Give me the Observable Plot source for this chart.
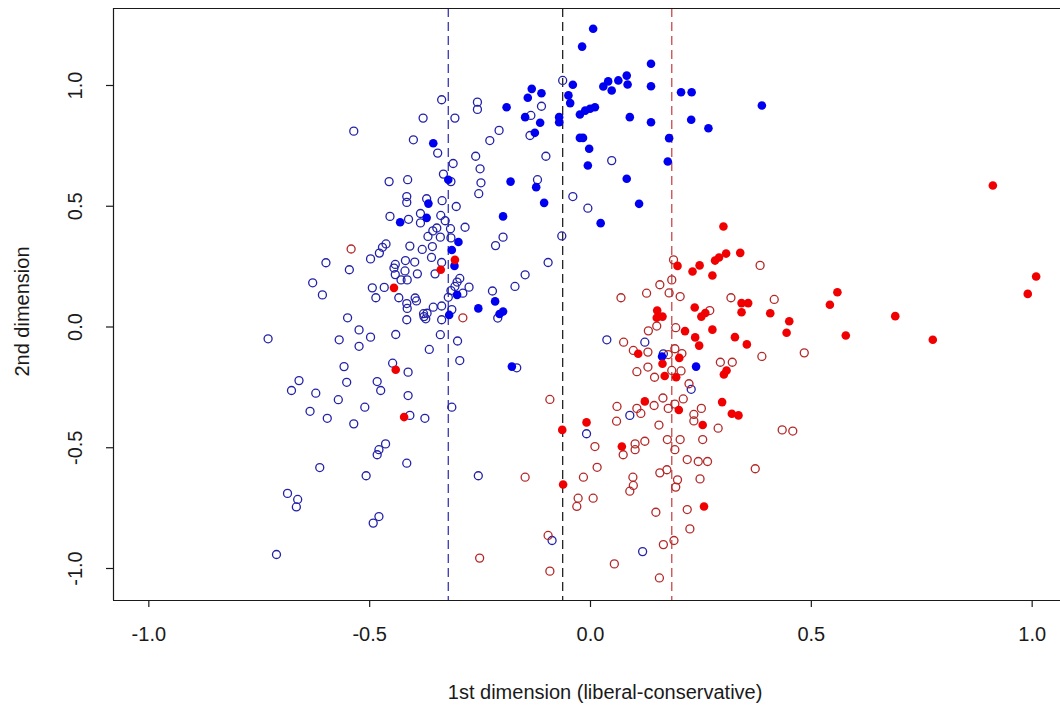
<!DOCTYPE html>
<html><head><meta charset="utf-8">
<script src="https://cdn.jsdelivr.net/npm/d3@7"></script>
<script src="https://cdn.jsdelivr.net/npm/@observablehq/plot@0.6"></script>
<style>body{margin:0;background:#fff}</style>
</head><body><div id="chart"></div>
<script>
// [1st dimension, 2nd dimension]
const blueFilled = [[0.006,1.235],[-0.019,1.161],[0.137,1.090],[-0.040,1.003],[0.029,0.996],[0.040,1.017],[0.048,0.979],[0.063,1.021],[0.082,1.041],[0.084,1.004],[0.137,0.997],[0.205,0.972],[0.229,0.972],[-0.133,0.986],[-0.111,0.968],[-0.142,0.949],[-0.050,0.959],[-0.046,0.927],[-0.190,0.910],[-0.148,0.869],[-0.114,0.846],[-0.071,0.869],[-0.071,0.848],[-0.024,0.880],[-0.012,0.896],[-0.001,0.904],[0.010,0.910],[0.089,0.869],[0.137,0.848],[0.228,0.858],[0.267,0.823],[-0.126,0.804],[-0.024,0.783],[-0.017,0.783],[0.178,0.782],[-0.003,0.738],[-0.006,0.669],[0.175,0.685],[-0.181,0.602],[-0.123,0.579],[0.082,0.614],[-0.105,0.514],[0.110,0.510],[-0.198,0.458],[0.023,0.430],[0.388,0.917],[-0.356,0.761],[-0.322,0.610],[-0.367,0.511],[-0.371,0.452],[-0.431,0.434],[-0.299,0.352],[-0.314,0.319],[-0.308,0.253],[-0.302,0.133],[-0.254,0.077],[-0.216,0.106],[-0.206,0.054],[-0.198,0.064],[-0.320,0.050],[-0.178,-0.164],[0.162,-0.122],[0.239,-0.164]];

const blueOpen = [[-0.337,0.941],[-0.379,0.865],[-0.307,0.865],[-0.536,0.811],[-0.401,0.775],[-0.346,0.720],[-0.311,0.677],[-0.333,0.633],[-0.316,0.602],[-0.456,0.602],[-0.414,0.610],[-0.416,0.540],[-0.416,0.516],[-0.371,0.531],[-0.336,0.523],[-0.304,0.499],[-0.454,0.458],[-0.412,0.446],[-0.385,0.470],[-0.385,0.431],[-0.339,0.462],[-0.329,0.440],[-0.348,0.410],[-0.357,0.398],[-0.317,0.407],[-0.284,0.413],[-0.368,0.375],[-0.340,0.372],[-0.316,0.369],[-0.463,0.344],[-0.471,0.330],[-0.409,0.335],[-0.381,0.321],[-0.358,0.333],[-0.256,0.931],[-0.256,0.901],
[-0.063,1.021],[-0.135,0.876],[-0.111,0.914],[-0.207,0.814],[-0.228,0.772],[-0.137,0.793],[-0.260,0.707],[-0.101,0.707],[-0.250,0.655],[-0.248,0.597],[-0.253,0.552],[-0.120,0.610],[-0.040,0.540],[-0.006,0.492],[0.048,0.689],[-0.198,0.372],[-0.065,0.377],
[-0.478,0.306],[-0.498,0.282],[-0.599,0.266],[-0.546,0.237],[-0.442,0.259],[-0.445,0.244],[-0.419,0.275],[-0.398,0.269],[-0.360,0.288],[-0.337,0.267],[-0.442,0.217],[-0.420,0.232],[-0.392,0.220],[-0.352,0.220],[-0.429,0.195],[-0.415,0.195],[-0.629,0.183],[-0.607,0.133],[-0.494,0.162],[-0.467,0.164],[-0.486,0.121],[-0.434,0.121],[-0.416,0.097],[-0.415,0.077],[-0.397,0.120],[-0.394,0.108],[-0.302,0.186],[-0.296,0.201],[-0.307,0.168],[-0.289,0.140],[-0.275,0.165],[-0.316,0.151],[-0.322,0.123],[-0.222,0.149],[-0.215,0.337],[-0.356,0.082],[-0.337,0.087],[-0.378,0.055],[-0.370,0.057],[-0.377,0.043],[-0.373,0.034],[-0.337,0.030],[-0.314,0.072],[-0.416,0.030],[-0.550,0.038],[-0.210,0.037],
[-0.730,-0.049],[-0.569,-0.053],[-0.524,-0.012],[-0.498,-0.042],[-0.524,-0.080],[-0.441,-0.031],[-0.340,-0.032],[-0.301,-0.058],[-0.365,-0.093],[-0.296,-0.139],[-0.558,-0.164],[-0.448,-0.150],[-0.413,-0.187],[-0.660,-0.222],[-0.677,-0.263],[-0.552,-0.229],[-0.483,-0.226],[-0.475,-0.263],[-0.622,-0.274],[-0.571,-0.301],[-0.413,-0.284],[-0.635,-0.349],[-0.596,-0.378],[-0.536,-0.401],[-0.511,-0.332],[-0.409,-0.366],[-0.375,-0.378],[-0.314,-0.332],
[-0.464,-0.484],[-0.479,-0.508],[-0.483,-0.529],[-0.416,-0.564],[-0.613,-0.582],[-0.508,-0.616],[-0.254,-0.616],[-0.686,-0.689],[-0.663,-0.714],[-0.666,-0.745],[-0.479,-0.785],[-0.492,-0.812],[-0.711,-0.942],
[-0.096,0.267],[-0.148,0.216],[-0.171,0.168],[0.037,-0.053],[0.123,-0.063],[0.165,-0.111],[0.228,-0.258],[0.089,-0.366],[-0.009,-0.442],[-0.087,-0.884],[0.118,-0.930],[-0.167,-0.169]];

const redFilled = [[-0.307,0.278],[-0.339,0.237],[-0.445,0.162],[-0.441,-0.177],[-0.422,-0.373],[-0.064,-0.426],[-0.009,-0.395],[0.071,-0.495],[-0.062,-0.652],[0.257,-0.743],[0.254,-0.406],[0.123,-0.308],[0.200,-0.344],[0.298,-0.311],[0.320,-0.359],[0.335,-0.366],[0.197,0.253],[0.231,0.230],[0.247,0.255],[0.276,0.213],[0.282,0.275],[0.291,0.288],[0.307,0.304],[0.339,0.307],[0.301,0.416],[0.151,0.068],[0.150,0.038],[0.163,0.043],[0.236,0.081],[0.251,0.043],[0.260,0.058],[0.276,-0.011],[0.214,-0.017],[0.237,-0.043],[0.246,-0.077],[0.342,0.099],[0.357,0.099],[0.342,0.061],[0.407,0.057],[0.450,0.024],[0.444,-0.024],[0.327,-0.042],[0.354,-0.072],[0.108,-0.111],[0.163,-0.152],[0.201,-0.128],[0.168,-0.203],[0.194,-0.208],[0.308,-0.180],[0.302,-0.197],[0.911,0.586],[1.009,0.209],[0.990,0.137],[0.559,0.144],[0.542,0.092],[0.690,0.045],[0.578,-0.035],[0.775,-0.053]];

const redOpen = [[-0.542,0.323],[-0.289,0.038],[-0.251,-0.957],[-0.092,-0.300],[-0.148,-0.622],[-0.096,-0.863],[-0.092,-1.011],[0.188,0.278],[0.184,0.195],[0.157,0.175],[0.127,0.140],[0.178,0.141],[0.203,0.126],[0.069,0.121],[0.270,0.068],[0.150,0.004],[0.131,-0.016],[0.193,-0.003],[0.075,-0.063],[0.097,-0.097],[0.130,-0.104],[0.176,-0.114],[0.191,-0.090],[0.207,-0.110],[0.130,-0.166],[0.105,-0.185],[0.145,-0.208],[0.184,-0.180],[0.205,-0.182],[0.223,-0.235],[0.294,-0.146],[0.321,-0.146],[0.384,0.255],[0.318,0.121],[0.416,0.114],[0.388,-0.122],[0.484,-0.107],[0.251,-0.337],[0.289,-0.419],[0.434,-0.426],[0.458,-0.431],[0.060,-0.329],[0.144,-0.325],[0.164,-0.294],[0.191,-0.319],[0.210,-0.298],[0.176,-0.337],[0.105,-0.337],[0.114,-0.358],[0.059,-0.390],[0.155,-0.406],[0.234,-0.362],[0.234,-0.389],[0.010,-0.495],[0.074,-0.529],[0.101,-0.484],[0.101,-0.508],[0.123,-0.473],[0.174,-0.466],[0.203,-0.466],[0.191,-0.508],[0.254,-0.466],[0.219,-0.549],[0.244,-0.557],[0.265,-0.557],[0.373,-0.587],[0.015,-0.581],[-0.016,-0.622],[0.096,-0.622],[0.097,-0.656],[0.089,-0.680],[0.157,-0.604],[0.173,-0.591],[0.197,-0.633],[0.193,-0.663],[0.248,-0.629],[-0.028,-0.709],[-0.031,-0.743],[0.006,-0.709],[0.148,-0.767],[0.219,-0.756],[0.225,-0.836],[0.165,-0.901],[0.189,-0.884],[0.054,-0.981],[0.156,-1.039]];

// vertical reference lines: blue mean, overall mean, red mean
const blueMean = -0.322;
const allMean = -0.063;
const redMean = 0.184;

const xTicks = [-1, -0.5, 0, 0.5, 1];
const yTicks = [-1, -0.5, 0, 0.5, 1];
const xTitle = "1st dimension (liberal-conservative)";
const yTitle = "2nd dimension";

const xDom = [-1.08, 1.08];
const yDom = [-1.1325, 1.3188];
const font = "Liberation Sans, Arial, sans-serif";
const ink = "#1a1a1a";
const fmt = d => d.toFixed(1);

const chart = Plot.plot({
  width: 1060,
  height: 710,
  marginLeft: 113,
  marginRight: 0,
  marginTop: 8,
  marginBottom: 110,
  style: {fontFamily: font, background: "#fff"},
  x: {domain: xDom, range: [113, 1067], axis: null},
  y: {domain: yDom, range: [600, 8], axis: null},
  marks: [
    Plot.ruleX([blueMean], {x: d => d, stroke: "#3535b8", strokeWidth: 1.3, strokeDasharray: "9,5"}),
    Plot.ruleX([allMean], {x: d => d, stroke: "#222", strokeWidth: 1.3, strokeDasharray: "9,5"}),
    Plot.ruleX([redMean], {x: d => d, stroke: "#c84848", strokeWidth: 1.3, strokeDasharray: "9,5"}),
    Plot.dot(blueOpen, {x: d => d[0], y: d => d[1], r: 4, fill: "none", stroke: "#2222a8", strokeWidth: 1.3}),
    Plot.dot(redOpen, {x: d => d[0], y: d => d[1], r: 4, fill: "none", stroke: "#b42828", strokeWidth: 1.3}),
    Plot.dot(blueFilled, {x: d => d[0], y: d => d[1], r: 4.3, fill: "#0000f0", stroke: "none"}),
    Plot.dot(redFilled, {x: d => d[0], y: d => d[1], r: 4.3, fill: "#f00000", stroke: "none"}),
    // box
    Plot.ruleY([yDom[1], yDom[0]], {y: d => d, stroke: ink, strokeWidth: 1.2}),
    Plot.ruleX([xDom[0]], {x: d => d, stroke: ink, strokeWidth: 1.2}),
    // ticks
    Plot.ruleX(xTicks, {x: d => d, y1: yDom[0], y2: yDom[0] - 7 / 241.5, stroke: ink, strokeWidth: 1.2}),
    Plot.ruleY(yTicks, {y: d => d, x1: xDom[0], x2: xDom[0] - 7 / 441.7, stroke: ink, strokeWidth: 1.2}),
    // tick labels
    Plot.text(xTicks, {x: d => d, y: yDom[0], dy: 34, text: fmt, fontSize: 20, fill: ink, lineAnchor: "middle"}),
    Plot.text(yTicks, {x: xDom[0], y: d => d, dx: -38, rotate: -90, text: fmt, fontSize: 20, fill: ink, lineAnchor: "middle"}),
    // titles
    Plot.text([xTitle], {x: 0.033, y: yDom[0], dy: 92, text: d => d, fontSize: 20, fill: ink, lineAnchor: "middle"}),
    Plot.text([yTitle], {x: xDom[0], y: 0.064, dx: -91, rotate: -90, text: d => d, fontSize: 20, fill: ink, lineAnchor: "middle"})
  ]
});
document.getElementById("chart").append(chart);
</script>
</body></html>
